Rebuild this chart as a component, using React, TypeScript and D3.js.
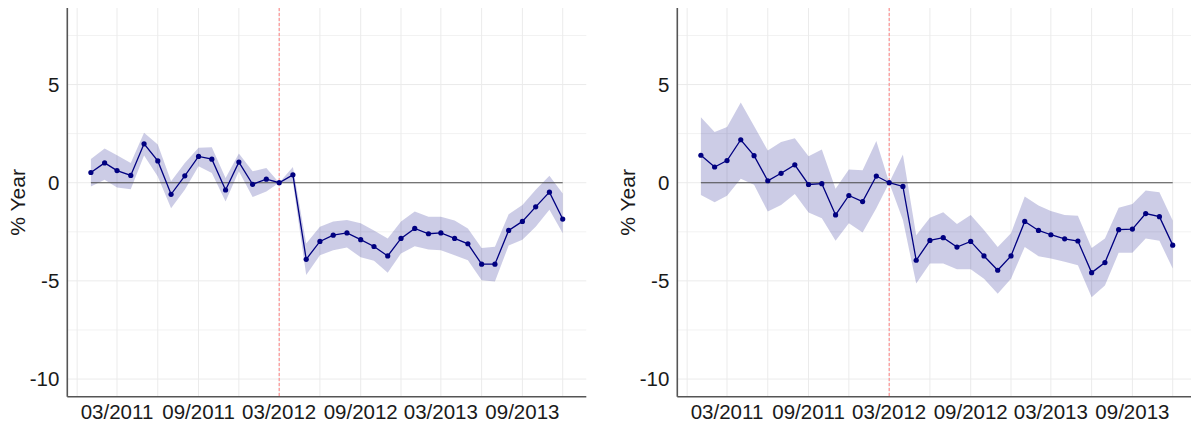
import React from 'react';
import * as d3 from 'd3';

// monthly estimates, 01/2011 .. 12/2013 (reference month 03/2012 = 0)
const leftEst = [0.52, 1.01, 0.62, 0.37, 1.98, 1.11, -0.59, 0.35, 1.34, 1.2, -0.37, 1.05, -0.08, 0.18, 0, 0.4, -3.9, -2.99, -2.67, -2.56, -2.9, -3.25, -3.73, -2.84, -2.33, -2.6, -2.56, -2.84, -3.11, -4.15, -4.15, -2.43, -1.97, -1.23, -0.48, -1.85];
const leftHi = [1.21, 1.74, 1.4, 1.0, 2.55, 1.95, 0.07, 1.0, 1.78, 1.81, 0.24, 1.49, 0.58, 0.75, 0, 0.8, -3.1, -2.24, -1.98, -1.9, -2.07, -2.44, -2.84, -1.98, -1.47, -1.73, -1.73, -1.93, -2.33, -3.32, -3.26, -1.6, -1.13, -0.36, 0.36, -0.55];
const leftLo = [-0.19, 0.15, -0.24, -0.33, 1.39, 0.32, -1.3, -0.36, 0.84, 0.5, -0.96, 0.58, -0.73, -0.45, 0, 0.0, -4.7, -3.7, -3.44, -3.3, -3.8, -3.98, -4.58, -3.6, -3.23, -3.4, -3.44, -3.7, -3.95, -4.97, -5.03, -3.2, -2.9, -2.24, -1.38, -2.58];

const rightEst = [1.4, 0.8, 1.13, 2.19, 1.38, 0.1, 0.48, 0.91, -0.09, -0.05, -1.64, -0.65, -0.96, 0.34, 0, -0.19, -3.95, -2.94, -2.8, -3.28, -2.99, -3.73, -4.46, -3.73, -1.97, -2.43, -2.65, -2.86, -2.97, -4.58, -4.07, -2.39, -2.36, -1.57, -1.73, -3.18];
const rightHi = [3.34, 2.58, 2.84, 4.09, 2.89, 1.64, 2.07, 2.26, 1.35, 1.69, -0.31, 0.67, 0.63, 2.12, 0, 1.44, -2.67, -1.78, -1.5, -2.1, -1.64, -2.41, -3.27, -2.58, -0.7, -1.16, -1.44, -1.64, -1.68, -3.32, -2.84, -1.27, -1.08, -0.39, -0.48, -1.93];
const rightLo = [-0.62, -0.99, -0.67, 0.2, -0.1, -1.47, -1.13, -0.58, -1.52, -1.81, -2.96, -2.07, -2.53, -1.3, 0, -1.9, -5.14, -4.12, -4.12, -4.41, -4.41, -4.89, -5.66, -4.89, -3.27, -3.74, -3.86, -4.03, -4.2, -5.83, -5.23, -3.57, -3.57, -2.84, -2.96, -4.37];

const tickLabels = ['03/2011', '09/2011', '03/2012', '09/2012', '03/2013', '09/2013'];
const yTicks = [5, 0, -5, -10];
const yMinor = [7.5, 2.5, -2.5, -7.5];
const refMonth = '03/2012';

const parseMonth = d3.timeParse('%m/%Y');
const months = d3.timeMonth.range(new Date(2011, 0, 1), new Date(2014, 0, 1));

const W = 1191;
const H = 426;
const panelW = 519;
const top = 8;
const bottom = 396.7;
const font = 'Liberation Sans, Arial, sans-serif';

// ggplot style 5% expansion on the date axis
const span = +months[months.length - 1] - +months[0];
const x = d3
  .scaleTime()
  .domain([new Date(+months[0] - span * 0.05), new Date(+months[months.length - 1] + span * 0.05)])
  .range([0, panelW]);
const y = d3.scaleLinear().domain([-10.9, 8.9]).range([bottom, top]);

interface PanelProps {
  left: number;
  est: number[];
  hi: number[];
  lo: number[];
}

const Panel: React.FC<PanelProps> = ({ left, est, hi, lo }) => {
  const rows = months.map((m, i) => ({ m, v: est[i], hi: hi[i], lo: lo[i] }));
  const area = d3
    .area<typeof rows[0]>()
    .x((d) => x(d.m))
    .y0((d) => y(d.lo))
    .y1((d) => y(d.hi));
  const line = d3
    .line<typeof rows[0]>()
    .x((d) => x(d.m))
    .y((d) => y(d.v));
  // vertical grid every 3 months (Mar/Jun/Sep/Dec)
  const vGrid = d3.timeMonth
    .range(x.domain()[0], x.domain()[1])
    .filter((d) => d.getMonth() % 3 === 2);
  const ref = parseMonth(refMonth)!;
  return (
    <g transform={`translate(${left},0)`}>
      {yMinor.map((t) => (
        <line key={'m' + t} x1={0} x2={panelW} y1={y(t)} y2={y(t)} stroke='#f2f2f2' strokeWidth={1} />
      ))}
      {yTicks.map((t) => (
        <line key={'g' + t} x1={0} x2={panelW} y1={y(t)} y2={y(t)} stroke='#ebebeb' strokeWidth={1} />
      ))}
      {vGrid.map((d) => (
        <line key={+d} x1={x(d)} x2={x(d)} y1={top} y2={bottom} stroke='#ebebeb' strokeWidth={1} />
      ))}
      <path d={area(rows)!} fill='#000080' fillOpacity={0.2} stroke='none' />
      <line
        x1={x(months[0])}
        x2={x(months[months.length - 1])}
        y1={y(0)}
        y2={y(0)}
        stroke='#4d4d4d'
        strokeWidth={1.1}
      />
      <line x1={x(ref)} x2={x(ref)} y1={top} y2={bottom} stroke='#ff7f7f' strokeWidth={1} strokeDasharray='3,2' />
      <path d={line(rows)!} fill='none' stroke='#000080' strokeWidth={1.3} />
      {rows.map((d) => (
        <circle key={+d.m} cx={x(d.m)} cy={y(d.v)} r={2.6} fill='#000080' />
      ))}
      <line x1={0} x2={0} y1={top} y2={bottom} stroke='#555' strokeWidth={1.6} />
      <line x1={0} x2={panelW} y1={bottom} y2={bottom} stroke='#555' strokeWidth={1.6} />
      {yTicks.map((t) => (
        <text key={'t' + t} x={-8} y={y(t)} dy='0.36em' textAnchor='end' fontSize={20.5} fill='#1a1a1a'>
          {t}
        </text>
      ))}
      {tickLabels.map((l) => (
        <text key={l} x={x(parseMonth(l)!)} y={418.5} textAnchor='middle' fontSize={20.5} fill='#1a1a1a'>
          {l}
        </text>
      ))}
      <text
        transform={`translate(-50,${(top + bottom) / 2}) rotate(-90)`}
        textAnchor='middle'
        dy='0.35em'
        fontSize={21}
        fill='#1a1a1a'
      >
        % Year
      </text>
    </g>
  );
};

const App: React.FC = () => {
  return (
    <svg
      width={W}
      height={H}
      style={{ position: 'absolute', left: 0, top: 0, background: '#fff', fontFamily: font }}
    >
      <Panel left={67.3} est={leftEst} hi={leftHi} lo={leftLo} />
      <Panel left={677.3} est={rightEst} hi={rightHi} lo={rightLo} />
    </svg>
  );
};

export default App;
